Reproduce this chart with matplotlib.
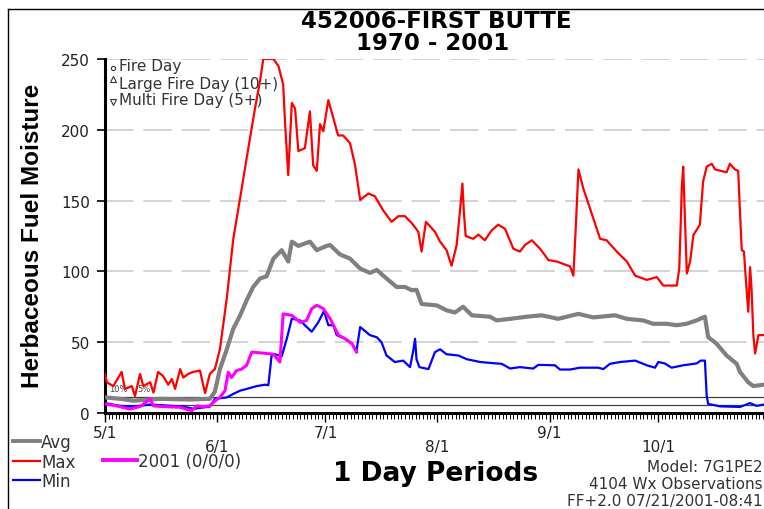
import matplotlib.pyplot as plt
from matplotlib.lines import Line2D
from matplotlib.ticker import FixedLocator

# x = days since May 1, y = herbaceous fuel moisture
max_day = [0, 0.5, 2.3, 4.6, 5.5, 7.4, 8.3, 9.7, 10.6, 12.5, 13.4, 14.7, 16.1, 17.5, 18.5, 19.4,
           20.8, 21.7, 23, 24.4, 26.3, 26.8, 27.7, 29, 30.4, 31.8, 33.7, 35.5, 37.4, 39.2, 41.5,
           42.9, 43.8, 46.6, 48, 49.3, 49.8, 50.7, 51.7, 52.6, 53.5, 55.3, 56.7, 57.6, 58.6, 59.5,
           60.4, 61.8, 64.5, 65.9, 67.8, 69.2, 70.6, 72.9, 74.7, 77, 79.3, 81.2, 83, 84.9, 86.7,
           87.6, 88.8, 91.3, 92.7, 94.5, 95.9, 97.3, 98.2, 98.9, 99.3, 99.8, 101.9, 103.3, 105.1,
           107, 108.8, 110.7, 113, 114.8, 116.2, 118.1, 120.4, 122.7, 125, 128.7, 129.6, 130.3,
           131, 132.3, 137, 138.8, 141.6, 144.4, 146.7, 149.9, 152.7, 154.5, 158.2, 158.9, 159.3,
           159.6, 160, 160.5, 161, 161.9, 162.8, 164.6, 165.5, 166.5, 167.9, 168.8, 172, 172.9,
           174.3, 175.2, 175.7, 176.2, 176.8, 177.5, 178, 178.5, 178.9, 179.4, 179.9, 180.8, 182.3]
max_val = [27.6, 21.7, 19, 29, 17, 19, 12, 27.6, 19, 21.7, 14.4, 29, 26, 20, 24, 17,
           31, 25, 27.6, 29, 30, 24, 14, 27.6, 31, 45, 81, 123, 152, 180, 215,
           234.5, 250, 250, 245, 232, 206, 168, 219, 215, 185, 187, 213, 175, 171, 204,
           199, 221, 196, 196, 190.6, 175, 150.5, 155, 153, 143, 135, 139, 139, 134, 128,
           114, 135, 128, 121, 115, 104, 118.6, 142, 162, 142, 125, 123, 126, 122,
           129, 133, 130, 116, 114, 118.6, 122, 116, 108, 107, 103.5, 97, 133,
           172, 159, 123, 122, 114, 107, 97, 94, 96, 90, 90, 102, 133,
           159, 174, 135, 98.5, 107, 125.6, 133, 163.5, 174, 176, 172, 170, 176,
           172, 171, 142, 115, 114, 88, 71.5, 103, 88, 55, 42, 55, 55]

avg_day = [0, 4.2, 7.8, 15.2, 23.5, 29, 30.4, 31.8, 33.7, 35.5, 37.4, 39.2, 41, 42.9, 44.7,
           46.6, 48.9, 50.7, 51.7, 53.5, 56.7, 58.6, 61.3, 62.3, 65, 67.8, 70.6, 73.3, 75.2,
           77.9, 80.7, 83, 84.9, 86.2, 87.6, 91.8, 94.5, 96.8, 99.1, 101.5, 106.5, 108.4,
           112.1, 116.7, 120.8, 125.4, 131, 135.1, 141.1, 144.4, 148.9, 151.7, 155.4, 158.2,
           160.9, 163.7, 166, 166.9, 169.2, 172, 174.8, 175.7, 178, 179.4, 182.3]
avg_val = [11, 10, 8.7, 10, 9.5, 10, 15, 31, 45, 59.5, 69, 79.6, 89, 95, 96.5,
           109, 115, 107, 121, 118, 121, 115, 118, 118.6, 112, 109, 102, 99, 101,
           95, 89, 89, 86.7, 87, 77, 76, 72.5, 71, 75, 69, 68, 65.4,
           66.5, 68, 69, 66.5, 70, 67.5, 69, 66.5, 65.4, 63, 63, 62,
           63, 65.4, 68, 53.6, 49, 40.6, 34.7, 29, 21.7, 19, 20]

min_day = [0, 4.2, 7.8, 12.5, 21.7, 24.4, 29, 30.4, 33.7, 35.5, 37.4, 39.2, 42, 44.3, 45.2,
           46.1, 47, 48.9, 50.3, 51.7, 54, 55.3, 57.2, 59, 60.6, 61.8, 63.2, 64.1, 66.4, 68.3,
           69.6, 70.6, 71.9, 73.3, 75.2, 76.5, 77.9, 80.2, 82.5, 84.4, 85.3, 85.8, 86.2, 87,
           89.5, 91.3, 92.7, 94.5, 97.8, 100.1, 103.8, 109.8, 112.1, 114.8, 118.5, 119.9,
           124.5, 125.9, 128.7, 131.4, 136.5, 137.9, 139.7, 142.5, 146.7, 149.9, 152.2, 153.1,
           154.9, 156.8, 160, 163.7, 164.8, 166, 166.5, 166.9, 170.2, 175.7, 178.5, 180.3, 182.3]
min_val = [7, 5, 4.5, 6, 4.5, 3, 4.5, 10, 11, 13.5, 15.8, 17, 19, 20, 19.6,
           40.6, 41.5, 40, 52.4, 66.6, 65.4, 62, 57.4, 64, 72, 62, 62, 55, 52.5, 49,
           44, 60.7, 58, 55, 53.5, 50, 40.6, 36, 37, 32.4, 44, 52.4, 38, 32.4,
           31, 43, 45, 41.5, 40.6, 38, 36, 34.7, 31.4, 32.4, 31.4, 34,
           33.7, 30.7, 30.7, 32, 32, 31, 34.7, 36, 37, 33.7, 32, 36,
           35, 32, 33.7, 35, 37, 37, 12, 6.4, 4.7, 4.3, 7, 5, 6]

y2001_day = [0, 3.2, 6.9, 9.7, 12.5, 13.4, 16.1, 20.8, 24, 25.4, 27.2, 29, 30.4, 31.8, 33.2,
             34.1, 35, 36.4, 37.8, 39.2, 40.6, 42.9, 46.6, 48.4, 49.3, 51.7, 54, 55.8, 57.2,
             58.6, 59.5, 60.4, 62.3, 64.6, 66.4, 68.3, 69.6]
y2001_val = [6.4, 5, 2.8, 4.5, 10, 5, 4.5, 4, 1.6, 5, 4.5, 5, 8.5, 11, 15.8,
             28.8, 25, 30, 31, 33.7, 43, 42.5, 41.5, 36, 70, 69, 64, 65.4, 73.7,
             76, 75, 73.7, 66.6, 55, 52.5, 49, 43]

pct_levels = [11.3, 5.7]
month_days = [0, 31, 61, 92, 123, 153]
month_labels = ["5/1", "\n6/1", "7/1", "\n8/1", "9/1", "\n10/1"]

W, H = 764, 510


def fx(px):
    return px / W


def fy(py):
    return 1 - py / H


fig = plt.figure(figsize=(7.64, 5.10), dpi=100)
ax = fig.add_axes([fx(105), fy(414), fx(659), 354 / H])

for v in [50, 100, 150, 200, 250]:
    ax.axhline(v, color="#c8cdcd", lw=1.2, ls=(0, (17, 6)), zorder=0)
for v in pct_levels:
    ax.axhline(v, color="#404040", lw=0.9, zorder=1)

ax.plot(avg_day, avg_val, color="#808080", lw=3.0, zorder=3)
ax.plot(max_day, max_val, color="#ff0000", lw=1.6, zorder=4)
ax.plot(min_day, min_val, color="#0000ff", lw=1.6, zorder=5)
ax.plot(y2001_day, y2001_val, color="#ff00ff", lw=2.2, zorder=6)

ax.text(1, 17.5, "10%", fontsize=6, color="#444444", va="center", zorder=2)
ax.text(9, 17.5, "5%", fontsize=6, color="#444444", va="center", zorder=2)

ax.set_xlim(0, 182.35)
ax.set_ylim(0, 250)
for s in ["top", "right"]:
    ax.spines[s].set_visible(False)
for s in ["left", "bottom"]:
    ax.spines[s].set_linewidth(2.2)

ax.set_yticks([0, 50, 100, 150, 200, 250])
ax.set_xticks(month_days)
ax.set_xticklabels(month_labels, linespacing=0.95)
ax.xaxis.set_minor_locator(FixedLocator(range(0, 183)))
ax.tick_params(axis="y", length=5.8, width=1.2, pad=5, labelsize=11, labelcolor="#222222")
ax.tick_params(axis="x", which="major", length=6.5, width=1, pad=2, labelsize=11,
               labelcolor="#222222")
ax.tick_params(axis="x", which="minor", length=4.3, width=0.7)

# marker key inside the plot
key_color = "#333333"
fig.add_artist(Line2D([fx(113)], [fy(69)], marker="o", ms=3, mfc="none", mew=0.8,
                      color=key_color, transform=fig.transFigure))
fig.add_artist(Line2D([fx(113)], [fy(80)], marker="^", ms=5, mfc="none", mew=0.8,
                      color=key_color, transform=fig.transFigure))
fig.add_artist(Line2D([fx(113)], [fy(103)], marker="v", ms=5, mfc="none", mew=0.8,
                      color=key_color, transform=fig.transFigure))
fig.text(fx(119), fy(67), "Fire Day", fontsize=11, color=key_color, va="center")
fig.text(fx(119), fy(84), "Large Fire Day (10+)", fontsize=11, color=key_color, va="center")
fig.text(fx(119), fy(101), "Multi Fire Day (5+)", fontsize=11, color=key_color, va="center")

# series legend at the bottom left
legend_items = [("Avg", "#808080", 13, 40, 442, 2.8),
                ("Max", "#ff0000", 13, 40, 462, 1.6),
                ("Min", "#0000ff", 13, 40, 481, 1.6),
                ("2001 (0/0/0)", "#ff00ff", 103, 137, 461, 2.8)]
for label, col, x0, x1, yy, lw in legend_items:
    fig.add_artist(Line2D([fx(x0), fx(x1)], [fy(yy), fy(yy)], color=col, lw=lw,
                          transform=fig.transFigure))
    fig.text(fx(x1 + 1), fy(yy + 1), label, fontsize=12, color=key_color, va="center")

fig.text(fx(436), fy(21), "452006-FIRST BUTTE", fontsize=16.5, fontweight="bold",
         ha="center", va="center")
fig.text(fx(433), fy(44), "1970 - 2001", fontsize=16.5, fontweight="bold",
         ha="center", va="center")
fig.text(fx(33), fy(236), "Herbaceous Fuel Moisture", fontsize=17.5, fontweight="bold",
         family="Liberation Sans", rotation=90, ha="center", va="center")
fig.text(fx(436), fy(474), "1 Day Periods", fontsize=19, fontweight="bold",
         ha="center", va="center")

fig.text(fx(763), fy(468), "Model: 7G1PE2", fontsize=11, color=key_color,
         ha="right", va="center")
fig.text(fx(763), fy(485), "4104 Wx Observations", fontsize=11, color=key_color,
         ha="right", va="center")
fig.text(fx(763), fy(502), "FF+2.0 07/21/2001-08:41", fontsize=11, color=key_color,
         ha="right", va="center")

# outer frame (left and top edges visible)
fig.add_artist(Line2D([fx(8), fx(8)], [0, fy(10)], color="black", lw=1,
                      transform=fig.transFigure))
fig.add_artist(Line2D([fx(8), 1], [fy(10), fy(10)], color="black", lw=1,
                      transform=fig.transFigure))

fig.savefig("out.png", dpi=100)
